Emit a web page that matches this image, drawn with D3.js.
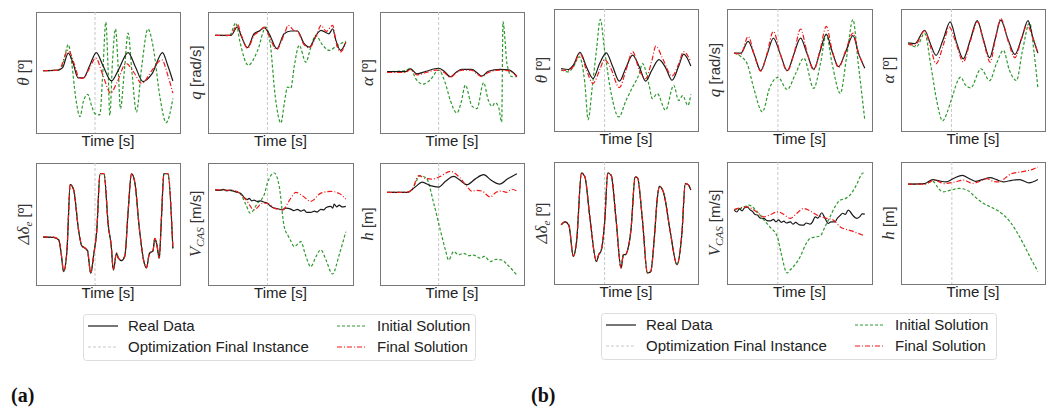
<!DOCTYPE html>
<html>
<head>
<meta charset="utf-8">
<script src="https://cdn.jsdelivr.net/npm/d3@7"></script>
<style>
  body { margin: 0; background: #fff; }
  svg { display: block; }
</style>
</head>
<body>
<svg width="1052" height="410"></svg>
<script>
// time is in % of the simulated window (0..100), values in arbitrary units (0..100)

// ---- (a) ----
const aThetaReal = [[0,51.5],[11.8,52],[15,54],[19.4,66],[23,58],[27,45.5],[31,45.5],[36,56],[41,66.5],[46,56],[52.7,43],[58,52],[65.5,66.5],[71,55],[77,42.5],[84,49],[92,66.5],[96,56],[100,43]];
const aThetaInit = [[0,51.5],[11.8,52],[15,56],[19.4,73],[22,58],[25,30],[28.4,13.5],[31,26],[34.3,32],[37.5,22],[40,16],[43.7,15],[46,50],[48.3,91.5],[50,55],[51.4,14.5],[53.5,60],[55.8,86],[57.8,55],[59.6,20],[62.5,50],[65.5,82.5],[68.5,50],[71.9,17.5],[76,55],[80.8,86],[85,70],[90,30],[94.9,8.6],[100,28.5]];
const aThetaFinal = [[0,51.5],[12,52],[19.4,68.5],[24,57],[28,45],[31,45.5],[36,54],[40.5,62],[46,48],[52,33],[57,42],[64,57.5],[70,50],[76,41],[84,52],[91.5,60.5],[96,48],[100,33]];

const aQReal = [[0,80.7],[12,80.7],[17,87.6],[20,80],[24.7,70.5],[29.8,82],[33.7,84.3],[37.5,87],[41.3,82],[47.2,69.7],[52.8,82],[57.9,84.3],[63,84.3],[68,74],[72,71],[78,82],[81,84.8],[87,82],[90,86],[92.3,77],[96,68.3],[100,75]];
const aQInit = [[0,80.7],[11,80.5],[15.8,91],[19,75],[25.3,56],[32.4,68],[38.8,87.5],[42,75],[46,30],[50.3,8.3],[53,25],[55.4,38],[57.9,37],[60.5,55],[64.3,72.5],[69.4,58.5],[73,70],[77,80.7],[82,73],[87.2,68.3],[93,72],[100,76]];
const aQFinal = [[0,80.7],[12,80.7],[17,90],[20,81],[24.7,70],[30,81],[34,84],[37.5,87.5],[41,81],[47,69],[53,82],[56,89],[60,85],[63,84],[68,73],[72,70.5],[78,82],[81,89],[85,84],[90,89],[92.3,76],[96,67],[100,75]];

const aAlphaReal = [[0,50.7],[14,50.7],[18,53],[23,48.8],[30,51],[39.7,53.5],[44,51],[48.7,46.5],[53,50],[57.7,52.6],[65.4,52.6],[69,50],[73,47],[78,51],[87,52.6],[93.6,52.1],[100,47]];
const aAlphaInit = [[0,50.7],[14,51.5],[18,53.5],[22,45],[27.7,40.4],[33.3,44],[39.7,52],[44.9,41],[48.7,27],[53.8,16.6],[57,25],[60.3,39.6],[65.4,22.2],[69.2,20.2],[74.4,41.6],[78,27],[80.8,22],[83.3,25],[86,21],[88.3,9],[89.3,92],[91,75],[92.3,57.6],[96.2,46.5],[100,46.5]];
const aAlphaFinal = [[0,50],[14,50],[18,52.5],[23,48],[30,50],[38,52],[44,50],[48.7,46],[53,49.5],[58,52],[65,52],[69,49],[73,46.5],[78,50],[87,52],[93.6,51.5],[100,46.5]];

const aDeltaReal = [[0,39.2],[8,39],[12,37],[14,25],[15.8,11],[18.4,29],[20.9,82.2],[23.5,78],[27.3,45],[29.8,32],[32.4,30],[34.2,28],[36.7,9.6],[39,25],[41.3,44],[43.9,91.2],[46.9,91.2],[50.3,48],[52.5,32],[54.1,12.3],[56.6,26],[58,22],[60.5,20],[63,24],[65.5,60],[68.1,91.2],[70.7,84],[74,48],[77.5,20],[79.6,14],[82,26],[84.7,28],[86,38],[87.5,34],[89.5,22],[91.2,55],[93.1,91.2],[96.2,91.2],[100,30]];
const aDeltaInit = [[0,39.2],[8,39],[12,37],[14,25],[15.8,11],[18.4,29],[20.9,82.2],[23.5,78],[27.3,45],[29.8,32],[32.4,30],[34.2,28],[36.7,9.6],[39,25],[41.3,44],[43.9,91.2],[46.9,91.2],[50.3,48],[52.5,32],[54.1,12.3],[56.6,26],[58,22],[60.5,20],[63,24],[65.5,60],[68.1,91.2],[70.7,84],[74,48],[77.5,20],[79.6,14],[82,26],[84.7,28],[86,38],[87.5,34],[89.5,22],[91.2,55],[93.1,91.2],[96.2,91.2],[100,30]];
const aDeltaFinal = [[0,39.4],[8,39.2],[12,37.2],[14,25.5],[15.8,11.3],[18.4,29.5],[20.9,82.5],[23.5,78.4],[27.3,45.5],[29.8,32.4],[32.4,30.3],[34.2,28.2],[36.7,9.8],[39,25.3],[41.3,44.3],[43.9,91.4],[46.9,91.4],[50.3,48.3],[52.5,32.3],[54.1,12.5],[56.6,26.3],[58,22.2],[60.5,20.3],[63,24.2],[65.5,60.3],[68.1,91.4],[70.7,84.2],[74,48.2],[77.5,20.2],[79.6,14.2],[82,26.2],[84.7,28.3],[86,38.2],[87.5,34.2],[89.5,22.2],[91.2,55.3],[93.1,91.4],[96.2,91.4],[100,30.3]];

const aVcasReal = [[0,78],[3,77.5],[6,78.3],[9,77.2],[12,77.8],[14.5,76.7],[17,76],[19.6,75],[22,72],[24.7,70],[26,71],[28,69],[29.8,69.5],[32,68.5],[34.9,69],[37,68],[40,67],[42,65],[45.2,63],[48,62.5],[51.5,61.5],[54,63],[57.9,62.2],[60,61],[63,62],[65.6,60.5],[68,61.5],[70,59.5],[73.2,59.5],[76,60.5],[78,59.8],[80.9,62],[83,61.5],[85,63.5],[88.5,64.5],[90,63],[91.1,66.3],[93,64],[95,65.5],[97,64],[100,64.5]];
const aVcasInit = [[0,78],[14,77],[19,75],[23.5,66],[26.8,59],[32.4,67],[37.5,74],[40,83.6],[45.2,91.8],[49,81],[52.8,48],[56,40],[57.9,36],[60.5,31.5],[65.6,35.6],[69,25],[73.2,15],[77,23],[80.9,28.8],[85,20],[89.8,9],[95,25],[100,43.8]];
const aVcasFinal = [[0,78],[14,77.5],[17,76.5],[23.5,70],[29.8,61.6],[36.2,67],[40,67],[45.2,63],[51.5,61.6],[57.9,71.2],[61.7,75.9],[67,73],[73.2,68.5],[80.9,75.3],[88.5,76.7],[95,75],[100,70.4]];

const aHReal = [[0,75.9],[15.4,75.9],[21.8,80.5],[26.9,84.4],[33.3,81.5],[39.7,80.3],[45,85],[51.3,89],[56,86],[61.5,82.2],[68,87],[74.4,90.4],[80,86],[86.7,82.7],[93,87],[100,91.2]];
const aHInit = [[0,75.9],[15,76],[19,78],[25.6,89.6],[30.3,87.5],[35.9,67],[41,45],[44.9,28.8],[47.4,20.5],[51.3,27.4],[55.1,24.7],[59,26],[63,24],[66.7,24.5],[71.8,22],[75,23.5],[79.5,19.2],[84,21],[88.5,20.5],[92.3,17],[100,8.2]];
const aHFinal = [[0,75.9],[15,76],[19,78],[24.4,89.6],[29,87.5],[34.6,86.8],[41,89],[48.7,93.2],[55.1,89],[61.5,80.8],[65,77],[69.2,77.5],[73,77],[79.5,72.1],[84,76],[88,77],[92,76],[96.2,78.5],[100,77]];

// ---- (b) ----
const bThetaReal = [[0,51.2],[5.6,50.4],[9.4,54],[14.5,64.4],[19.5,52.6],[24.6,43],[29.7,55.3],[34.8,64.1],[39.8,52.6],[44.9,40.8],[50,52],[55.1,62.2],[60.2,52.6],[65.2,40.8],[70,50],[75.4,58.5],[80.5,52],[85.5,41.6],[90.6,53],[94.4,63],[100,53.2]];
const bThetaInit = [[0,50],[5.6,48.5],[9.4,52.6],[14,60.8],[18.3,39],[20.8,9.3],[24,36],[27.2,66],[30.2,91.5],[33.5,66],[38.6,30.7],[44.4,11.5],[50,25],[55.1,36],[60.2,47],[62.7,55.3],[67.8,37.5],[70.3,26.6],[74.1,30.7],[80.5,17],[86.8,37.5],[90.6,25],[93.7,29],[97.7,21],[100,30]];
const bThetaFinal = [[0,50],[5.6,49.5],[9.4,53],[14.5,63.6],[19.5,50],[24.6,39],[29.7,50],[33.5,58.6],[38,52],[44.9,35.6],[50,50],[55.1,65],[60.2,50],[65.2,43],[70,58],[73,69.6],[78,60],[85.5,45],[90.6,55],[94.4,65],[100,56.7]];

const bQReal = [[0,63.8],[5.1,63.8],[10.7,73.4],[15.5,62],[20.3,49.5],[25,62],[30,76.2],[35.3,63],[40.6,49.5],[45.7,63],[50.8,76.2],[55.9,63],[60.9,50.6],[65.7,65],[70.5,79.5],[75,65],[79.9,52.8],[85.4,65],[90.9,78.1],[95.4,63],[100,51.4]];
const bQInit = [[0,63.8],[5.1,61],[10,55],[15,35],[21.6,15.7],[27,35],[33.5,44],[40.6,34],[47,47],[53.3,59.7],[60.9,35],[66,55],[70.5,79],[75,55],[81.2,30.8],[86,60],[90.9,91.3],[95,55],[100,8.8]];
const bQFinal = [[0,63.8],[5.1,63],[10.7,77.5],[15.5,62],[20.3,49],[25,63],[30,81.6],[35.3,63],[40.6,49],[45.7,63],[50.8,83.6],[55.9,64],[60.9,50],[65.7,66],[70.5,85.7],[75,66],[79.9,52],[85.4,66],[90.9,80.3],[95.4,63],[100,52.8]];

const bAlphaReal = [[0,72.2],[5.1,71.6],[12.7,82.6],[17,72],[21.5,62],[27,75],[32.4,89.5],[37.5,72],[42.5,59.2],[48,75],[53.2,90.4],[58,75],[62.8,60.1],[67,75],[71.4,90.9],[77,75],[82.3,62.8],[87.5,76],[92.4,90.4],[96,77],[100,63.9]];
const bAlphaInit = [[0,71.6],[6.3,68.9],[12.7,80],[17.7,52.3],[22,25],[26.6,8.3],[30,15],[33.4,26],[40.5,44.1],[44,38],[48.1,35.3],[56.2,51],[62.8,41.3],[68,55],[73.4,66.1],[78,50],[83.5,41.3],[88,65],[93.7,88.7],[97,65],[100,35.3]];
const bAlphaFinal = [[0,71.6],[5.1,70.2],[12.7,82.1],[17,70],[21.5,55.1],[27,70],[31.6,85.4],[37.5,70],[42.5,56.5],[48,74],[53.7,89.5],[58,74],[63.3,56.5],[67,74],[71.4,92.3],[77,74],[82.3,60.1],[87.5,76],[91.6,86.8],[96,77],[100,63.9]];

const bDeltaReal = [[0,48.4],[3,51],[6,48],[9.4,22.6],[11.9,34.8],[15.7,91],[18.3,87.8],[22.1,55],[27.2,18.5],[29,24],[31,28],[33.5,50],[36,91],[38.6,89],[42.4,52],[46.2,13],[48,24],[49.5,24],[51.3,28],[53.8,44],[57.1,87.8],[58.9,87],[62.7,52],[66.5,9],[69,10],[72,40],[74.1,70],[75.9,80],[79.2,74],[84.3,41.6],[89.3,15.8],[93.1,41.6],[95.7,82.3],[98.2,81],[100,77]];
const bDeltaInit = [[0,48.4],[3,51],[6,48],[9.4,22.6],[11.9,34.8],[15.7,91],[18.3,87.8],[22.1,55],[27.2,18.5],[29,24],[31,28],[33.5,50],[36,91],[38.6,89],[42.4,52],[46.2,13],[48,24],[49.5,24],[51.3,28],[53.8,44],[57.1,87.8],[58.9,87],[62.7,52],[66.5,9],[69,10],[72,40],[74.1,70],[75.9,80],[79.2,74],[84.3,41.6],[89.3,15.8],[93.1,41.6],[95.7,82.3],[98.2,81],[100,77]];
const bDeltaFinal = [[0,48.6],[3,51.2],[6,48.2],[9.4,22.9],[11.9,35],[15.7,91.2],[18.3,88],[22.1,55.2],[27.2,18.8],[29,24.3],[31,28.2],[33.5,50.2],[36,91.2],[38.6,89.2],[42.4,52.2],[46.2,13.3],[48,24.2],[49.5,24.2],[51.3,28.2],[53.8,44.2],[57.1,88],[58.9,87.2],[62.7,52.2],[66.5,9.2],[69,10.2],[72,40.2],[74.1,70.2],[75.9,80.2],[79.2,74.2],[84.3,41.8],[89.3,16],[93.1,41.8],[95.7,82.5],[98.2,81.2],[100,77.2]];

const bVcasReal = [[0,60.6],[2,59],[4,61.5],[6,60],[8,62.5],[10.2,63],[12,61],[14,59.5],[16,57],[17.8,56.5],[20,54],[22.8,53.8],[25,52],[27.9,51.8],[30,53],[32,51],[34,52.5],[36,50.5],[38,51.5],[40,50],[43,51],[45,49],[47,50.5],[50,48.5],[53.2,48.3],[55,50],[58.2,49.1],[60,51],[62,55],[64,54],[67.1,58.4],[69,55],[72.1,49.7],[74,51],[77.2,51],[79,54],[81,56],[83,58],[85,57],[87.3,60.6],[89,59],[91,56],[93.7,53.8],[96,55],[98,57.5],[100,57.3]];
const bVcasInit = [[0,61],[5,62],[11.4,64.6],[17,60],[22.8,52.4],[28,46],[33,38.8],[36,25],[40.5,9],[43,11.7],[46,15],[50.6,22.5],[55,33],[58.2,37.5],[62,38.5],[65.8,39.4],[70,48],[73.4,55.1],[77,63],[81,68.7],[85,70],[88.6,72.8],[93,80],[98.7,91],[100,89.9]];
const bVcasFinal = [[0,61.1],[10.2,63.2],[16,60],[22.8,55.1],[28,57],[33.4,59.2],[38,57],[43,53.8],[48,58],[53.2,61.9],[58,60],[63.3,56.5],[70,54],[75.9,52.4],[81,47],[90,43.5],[100,39.4]];

const bHReal = [[0,81.8],[12.7,82.3],[19,85.6],[24,84.5],[29.1,83.7],[35,86.5],[41.8,89.1],[47,86.5],[51.9,84.2],[57,85.5],[63.3,87.2],[68,85.5],[73.4,83.7],[80,85],[86.1,85.6],[93.2,82.9],[100,85.6]];
const bHInit = [[0,81.8],[12.7,82.3],[19,84.2],[23,79],[26.6,75.5],[32.9,76.9],[39.2,78.3],[45.6,76.9],[52,71],[58.2,66],[64,63],[68.4,60.6],[73,57],[78.5,51.1],[83,44],[88.6,33.4],[94,22],[100,10.3]];
const bHFinal = [[0,81.8],[12.7,81.8],[20.3,85.1],[27.8,82.3],[35.4,83.5],[43,85.1],[49.4,82.5],[55,84],[60.8,86.4],[66,84],[70.9,83.7],[75,87],[79.7,90.5],[85,91.5],[91.1,92.7],[96,94],[100,95.9]];

// time of the optimization final instance, per panel
const aFinalInstance = [40, 40, 39.7, 40, 40, 39.7];
const bFinalInstance = [33.5, 33.5, 33.4, 33.5, 33.4, 33.7];

const legendLabels = ["Real Data", "Optimization Final Instance", "Initial Solution", "Final Solution"];

// y axis labels: [text, style] parts
const yLabels = [
  [["θ", "math"], [" [º]", ""]],
  [["q", "math"], [" [rad/s]", ""]],
  [["α", "math"], [" [º]", ""]],
  [["Δδ", "math"], ["e", "msub"], [" [º]", ""]],
  [["V", "math"], ["CAS", "msub"], [" [m/s]", ""]],
  [["h", "math"], [" [m]", ""]]
];

const groups = [
  {
    cols: [[36, 180], [208, 353], [380, 524]],
    rows: [[12, 133], [163, 285]],
    vline: aFinalInstance,
    panels: [
      [aThetaReal, aThetaInit, aThetaFinal],
      [aQReal, aQInit, aQFinal],
      [aAlphaReal, aAlphaInit, aAlphaFinal],
      [aDeltaReal, aDeltaInit, aDeltaFinal],
      [aVcasReal, aVcasInit, aVcasFinal],
      [aHReal, aHInit, aHFinal]
    ],
    legend: {x: 83, y: 314, w: 392, h: 46, col2: 249},
    tag: {text: "(a)", x: 11}
  },
  {
    cols: [[554, 698], [727, 872], [901, 1045]],
    rows: [[9, 131], [162, 284]],
    vline: bFinalInstance,
    panels: [
      [bThetaReal, bThetaInit, bThetaFinal],
      [bQReal, bQInit, bQFinal],
      [bAlphaReal, bAlphaInit, bAlphaFinal],
      [bDeltaReal, bDeltaInit, bDeltaFinal],
      [bVcasReal, bVcasInit, bVcasFinal],
      [bHReal, bHInit, bHFinal]
    ],
    legend: {x: 601, y: 313, w: 395, h: 46, col2: 249},
    tag: {text: "(b)", x: 531}
  }
];

const styles = {
  real:  {stroke: "#1a1a1a", dash: null, width: 1.2},
  init:  {stroke: "#2e9a2e", dash: "3,2", width: 1.2},
  final: {stroke: "#f01818", dash: "5,2,1,2", width: 1.2},
  inst:  {stroke: "#c8c8c8", dash: "3,2", width: 1}
};

const sans = "'Liberation Sans', Arial, sans-serif";
const serif = "'Liberation Serif', 'DejaVu Serif', serif";

const svg = d3.select("svg");

function addLabel(text, parts) {
  parts.forEach(([s, kind]) => {
    const t = text.append("tspan").text(s);
    if (kind === "math") {
      t.attr("font-family", serif).attr("font-style", "italic").attr("font-size", 17);
    } else if (kind === "msub") {
      t.attr("font-family", serif).attr("font-style", "italic").attr("font-size", 11)
        .attr("baseline-shift", "-25%");
    } else {
      t.attr("font-family", sans).attr("font-size", 15);
    }
  });
}

groups.forEach(grp => {
  grp.panels.forEach((series, i) => {
    const [x0, x1] = grp.cols[i % 3];
    const [y0, y1] = grp.rows[Math.floor(i / 3)];

    const x = d3.scaleLinear().domain([-5.5, 105.5]).range([x0, x1]);
    const y = d3.scaleLinear().domain([0, 100]).range([y1, y0]);

    const g = svg.append("g");

    g.append("rect")
      .attr("x", x0 + 0.5).attr("y", y0 + 0.5)
      .attr("width", x1 - x0).attr("height", y1 - y0)
      .attr("fill", "#fff")
      .attr("stroke", "#777").attr("stroke-width", 1);

    const tInst = grp.vline[i];
    g.append("line")
      .attr("x1", x(tInst)).attr("x2", x(tInst))
      .attr("y1", y(100)).attr("y2", y(0))
      .attr("stroke", styles.inst.stroke)
      .attr("stroke-dasharray", styles.inst.dash)
      .attr("stroke-width", styles.inst.width);

    const line = d3.line()
      .x(d => x(d[0]))
      .y(d => y(d[1]))
      .curve(d3.curveMonotoneX);

    // draw order: initial below, then real data, final solution on top
    const order = [[1, "init"], [0, "real"], [2, "final"]];
    order.forEach(([k, key]) => {
      const st = styles[key];
      g.append("path")
        .datum(series[k])
        .attr("d", line)
        .attr("fill", "none")
        .attr("stroke", st.stroke)
        .attr("stroke-width", st.width)
        .attr("stroke-dasharray", st.dash)
        .attr("stroke-linejoin", "round");
    });

    // x label
    g.append("text")
      .attr("x", (x0 + x1) / 2)
      .attr("y", y1 + 13)
      .attr("text-anchor", "middle")
      .attr("font-family", sans)
      .attr("font-size", 15)
      .attr("fill", "#222")
      .text("Time [s]");

    // y label
    const yl = g.append("text")
      .attr("transform", `translate(${x0 - 7},${(y0 + y1) / 2}) rotate(-90)`)
      .attr("text-anchor", "middle")
      .attr("fill", "#333");
    addLabel(yl, yLabels[i]);
  });

  // legend
  const L = grp.legend;
  const lg = svg.append("g").attr("transform", `translate(${L.x},${L.y})`);
  lg.append("rect")
    .attr("x", 0.5).attr("y", 0.5)
    .attr("width", L.w).attr("height", L.h)
    .attr("rx", 3)
    .attr("fill", "#fff")
    .attr("stroke", "#ddd");

  const entries = [
    {label: legendLabels[0], st: styles.real, col: 0, row: 0},
    {label: legendLabels[1], st: styles.inst, col: 0, row: 1},
    {label: legendLabels[2], st: styles.init, col: 1, row: 0},
    {label: legendLabels[3], st: styles.final, col: 1, row: 1}
  ];
  entries.forEach(e => {
    const ex = e.col === 0 ? 5 : L.col2 + 5;
    const ey = 12 + e.row * 21;
    lg.append("line")
      .attr("x1", ex).attr("x2", ex + 30)
      .attr("y1", ey).attr("y2", ey)
      .attr("stroke", e.st.stroke)
      .attr("stroke-width", e.st.width)
      .attr("stroke-dasharray", e.st.dash);
    lg.append("text")
      .attr("x", ex + 40).attr("y", ey + 5)
      .attr("font-family", sans)
      .attr("font-size", 15)
      .attr("fill", "#222")
      .text(e.label);
  });

  svg.append("text")
    .attr("x", grp.tag.x).attr("y", 402)
    .attr("font-family", serif)
    .attr("font-weight", "bold")
    .attr("font-size", 20)
    .attr("fill", "#111")
    .text(grp.tag.text);
});
</script>
</body>
</html>
